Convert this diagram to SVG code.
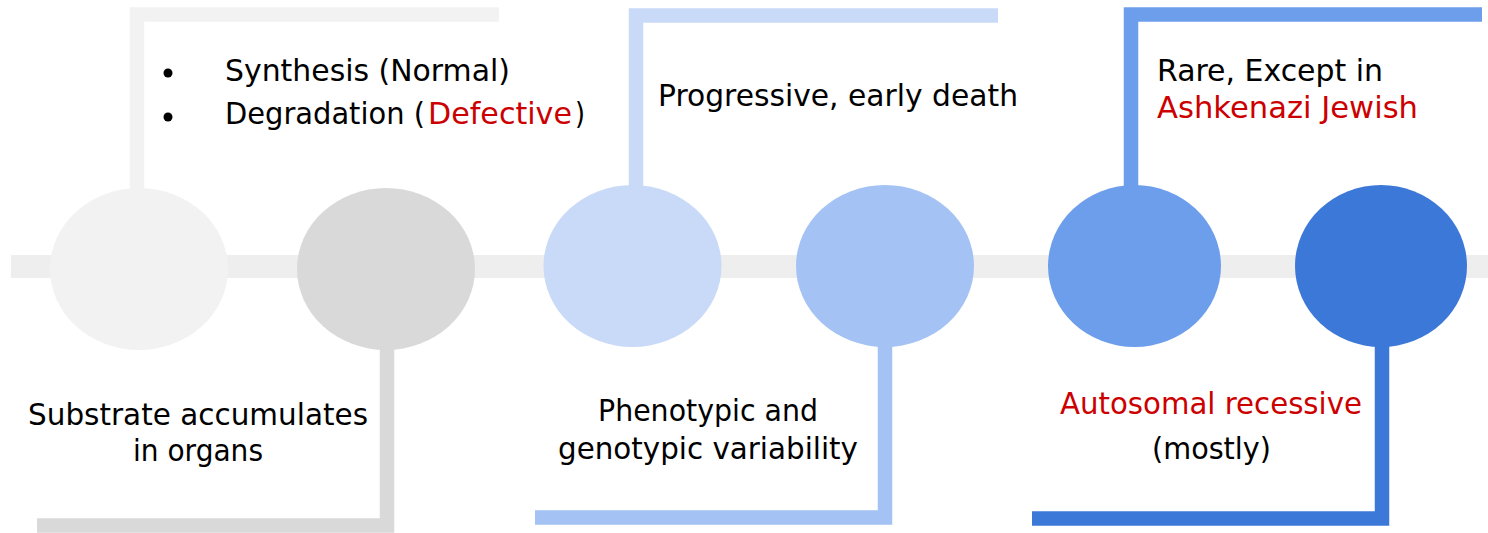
<svg xmlns="http://www.w3.org/2000/svg" width="1488" height="533" viewBox="0 0 1488 533">
  <style>
    .lbl { font-family: "Comic Sans MS", "DejaVu Sans", sans-serif; font-size: 31px; fill: #000; }
    .red { fill: #cc0000; }
    .mid { text-anchor: middle; }
    .arm { fill: none; stroke-width: 14.5; stroke-linejoin: miter; stroke-linecap: butt; }
  </style>

  <!-- timeline bar -->
  <g id="connectors">
    <rect x="11" y="255" width="1477" height="23" fill="#eeeeee"/>
  </g>

  <!-- step 1: synthesis / degradation -->
  <g id="node1">
    <path class="arm" d="M137 190 V14.5 H499" stroke="#f2f2f2"/>
    <ellipse cx="139" cy="269" rx="89" ry="81" fill="#f2f2f2"/>
    <circle cx="168" cy="73" r="4.5" fill="#000"/>
    <circle cx="168" cy="117" r="4.5" fill="#000"/>
    <text class="lbl" x="225" y="81" textLength="285" lengthAdjust="spacingAndGlyphs">Synthesis (Normal)</text>
    <text class="lbl" x="225" y="124" textLength="200" lengthAdjust="spacingAndGlyphs">Degradation (</text>
    <text class="lbl red" x="428" y="124" textLength="144" lengthAdjust="spacingAndGlyphs">Defective</text>
    <text class="lbl" x="575" y="124" textLength="10" lengthAdjust="spacingAndGlyphs">)</text>
  </g>

  <!-- step 2: accumulation -->
  <g id="node2">
    <path class="arm" d="M387 348 V525.5 H37" stroke="#d9d9d9"/>
    <ellipse cx="386" cy="269" rx="89" ry="81" fill="#d9d9d9"/>
    <text class="lbl mid" x="198" y="425" textLength="340" lengthAdjust="spacingAndGlyphs">Substrate accumulates</text>
    <text class="lbl mid" x="198" y="461" textLength="130" lengthAdjust="spacingAndGlyphs">in organs</text>
  </g>

  <!-- step 3: course -->
  <g id="node3">
    <path class="arm" d="M636 187 V15.5 H998" stroke="#c9daf8"/>
    <ellipse cx="632.5" cy="266" rx="89" ry="81" fill="#c9daf8"/>
    <text class="lbl" x="658" y="106" textLength="360" lengthAdjust="spacingAndGlyphs">Progressive, early death</text>
  </g>

  <!-- step 4: variability -->
  <g id="node4">
    <path class="arm" d="M885 345 V517.5 H535" stroke="#a4c2f4"/>
    <ellipse cx="885" cy="266" rx="89" ry="81" fill="#a4c2f4"/>
    <text class="lbl mid" x="708" y="421" textLength="220" lengthAdjust="spacingAndGlyphs">Phenotypic and</text>
    <text class="lbl mid" x="708" y="459" textLength="300" lengthAdjust="spacingAndGlyphs">genotypic variability</text>
  </g>

  <!-- step 5: prevalence -->
  <g id="node5">
    <path class="arm" d="M1131 187 V14.5 H1482" stroke="#6d9eeb"/>
    <ellipse cx="1134.5" cy="266" rx="86.5" ry="81" fill="#6d9eeb"/>
    <text class="lbl" x="1157" y="81" textLength="226" lengthAdjust="spacingAndGlyphs">Rare, Except in</text>
    <text class="lbl red" x="1157" y="118" textLength="261" lengthAdjust="spacingAndGlyphs">Ashkenazi Jewish</text>
  </g>

  <!-- step 6: inheritance -->
  <g id="node6">
    <path class="arm" d="M1382 345 V518.5 H1032" stroke="#3c78d8"/>
    <ellipse cx="1381" cy="266" rx="86" ry="81" fill="#3c78d8"/>
    <text class="lbl red mid" x="1211" y="414" textLength="302" lengthAdjust="spacingAndGlyphs">Autosomal recessive</text>
    <text class="lbl mid" x="1211.5" y="459" textLength="119" lengthAdjust="spacingAndGlyphs">(mostly)</text>
  </g>
</svg>
